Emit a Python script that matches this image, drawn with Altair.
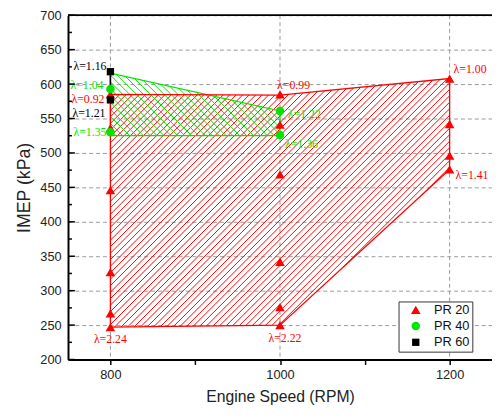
import altair as alt
import pandas as pd

# ---------------- data ----------------
pr20_rpm = [800, 800, 800, 800, 800, 800, 1000, 1000, 1000, 1000, 1000, 1000, 1200, 1200, 1200, 1200]
pr20_imep = [585, 536, 446, 327, 267, 247, 585, 541, 469, 342, 276, 250, 608, 542, 496, 476]
pr40_rpm = [800, 800, 1000, 1000]
pr40_imep = [593, 530, 561, 526]
pr60_rpm = [800, 800]
pr60_imep = [618, 577]

series_names = ["PR 20", "PR 40", "PR 60"]

# boundaries of the operating regions (hatched areas)
region20_rpm = [800, 1000, 1200, 1200, 1000, 800]
region20_imep = [585, 584, 608, 476, 250, 247]
region40_rpm = [800, 1000, 1000, 800]
region40_imep = [616, 561, 525, 525]

# lambda annotations
label_text = ["λ=1.16", "λ=1.04", "λ=0.92", "λ=1.21", "λ=1.35", "λ=2.24",
              "λ=0.99", "λ=1.22", "λ=1.36", "λ=2.22", "λ=1.00", "λ=1.41"]
label_rpm = [800, 800, 800, 800, 800, 800, 1000, 1000, 1000, 1000, 1200, 1200]
label_imep = [618, 593, 585, 577, 530, 247, 585, 561, 526, 250, 608, 476]
label_series = ["PR 60", "PR 40", "PR 20", "PR 60", "PR 40", "PR 20",
                "PR 20", "PR 40", "PR 40", "PR 20", "PR 20", "PR 20"]

x_ticks_all = [800, 900, 1000, 1100, 1200]
x_grid = [800, 1000, 1200]
y_ticks = [200, 250, 300, 350, 400, 450, 500, 550, 600, 650, 700]
y_minor = [225, 275, 325, 375, 425, 475, 525, 575, 625, 675]

# ---------------- styling ----------------
W, H = 431, 350
XMIN, XMAX, YMIN, YMAX = 750, 1250, 200, 700
RED, GREEN, BLACK = "#ff0000", "#00e600", "#000000"
series_colors = {"PR 20": RED, "PR 40": GREEN, "PR 60": BLACK}
# (align, dx, dy) for each annotation
label_style = [("right", -4, -6), ("right", -7, -4), ("right", -6, 5), ("right", -5, 13),
               ("right", -4, 0), ("center", 0, 12), ("left", -3, -10), ("left", 8, 3),
               ("left", 5, 9), ("center", 5, 13), ("left", 4, -10), ("left", 6, 6)]

xscale = alt.Scale(domain=[XMIN, XMAX], nice=False, zero=False)
yscale = alt.Scale(domain=[YMIN, YMAX], nice=False, zero=False)
xaxis = alt.Axis(title="Engine Speed (RPM)", values=x_ticks_all,
                 labelExpr="datum.value % 200 == 0 ? datum.label : ''",
                 grid=False, tickSize=5, tickWidth=1.5, tickColor="black",
                 domainColor="black", domainWidth=2, labelFontSize=13,
                 labelFont="Liberation Sans", labelColor="#222", labelPadding=4,
                 titleFont="Liberation Sans", titleFontSize=16, titleFontWeight="normal",
                 titleColor="#222", titlePadding=8, format="d")
yaxis = alt.Axis(title="IMEP (kPa)", values=y_ticks, grid=True, gridColor="#999",
                 gridDash=[4, 3], gridWidth=1, ticks=False, domainColor="black",
                 domainWidth=2, labelFontSize=13, labelFont="Liberation Sans",
                 labelColor="#222", labelPadding=7, titleFont="Liberation Sans",
                 titleFontSize=18, titleFontWeight="normal", titleColor="#222",
                 titlePadding=6, format="d")


def X(f):
    return alt.X(f, type="quantitative", scale=xscale, axis=xaxis)


def Y(f):
    return alt.Y(f, type="quantitative", scale=yscale, axis=yaxis)


def to_px(x, y):
    return ((x - XMIN) / (XMAX - XMIN) * W, (YMAX - y) / (YMAX - YMIN) * H)


def to_data(px, py):
    return (XMIN + px / W * (XMAX - XMIN), YMAX - py / H * (YMAX - YMIN))


def hatch(xs, ys, step, slash=True, phase=0.0):
    pts = [to_px(x, y) for x, y in zip(xs, ys)]
    n = len(pts)
    f = (lambda p: p[0] + p[1]) if slash else (lambda p: p[1] - p[0])
    vals = [f(p) for p in pts]
    rows = []
    c = min(vals) + phase
    while c < max(vals):
        hits = []
        for i in range(n):
            p1, p2 = pts[i], pts[(i + 1) % n]
            f1, f2 = f(p1) - c, f(p2) - c
            if (f1 > 0) != (f2 > 0):
                t = f1 / (f1 - f2)
                hits.append((p1[0] + t * (p2[0] - p1[0]), p1[1] + t * (p2[1] - p1[1])))
        hits.sort()
        for j in range(0, len(hits) - 1, 2):
            a = to_data(*hits[j])
            b = to_data(*hits[j + 1])
            rows.append({"rpm": a[0], "imep": a[1], "rpm2": b[0], "imep2": b[1]})
        c += step
    return pd.DataFrame(rows)


def outline(xs, ys):
    xs2 = list(xs) + [xs[0]]
    ys2 = list(ys) + [ys[0]]
    return pd.DataFrame({"rpm": xs2, "imep": ys2, "ord": list(range(len(xs2)))})


points = pd.DataFrame({
    "rpm": pr20_rpm + pr40_rpm + pr60_rpm,
    "imep": pr20_imep + pr40_imep + pr60_imep,
    "series": ["PR 20"] * len(pr20_rpm) + ["PR 40"] * len(pr40_rpm) + ["PR 60"] * len(pr60_rpm),
})

labels = pd.DataFrame({"rpm": label_rpm, "imep": label_imep, "text": label_text,
                       "series": label_series})
labels["color"] = labels["series"].map(series_colors)

# ---------------- layers ----------------
xgrid = alt.Chart(pd.DataFrame({"rpm": x_grid})).mark_rule(
    color="#999", strokeDash=[4, 3], strokeWidth=1).encode(x=X("rpm"))

hatch20 = alt.Chart(hatch(region20_rpm, region20_imep, 6.6, True, 3.0)).mark_rule(
    color=RED, strokeWidth=1).encode(x=X("rpm"), y=Y("imep"), x2="rpm2", y2="imep2")
hatch40 = alt.Chart(hatch(region40_rpm, region40_imep, 7.0, False, 3.0)).mark_rule(
    color=GREEN, strokeWidth=1).encode(x=X("rpm"), y=Y("imep"), x2="rpm2", y2="imep2")

out40 = alt.Chart(outline(region40_rpm, region40_imep)).mark_line(
    color=GREEN, strokeWidth=1.3).encode(x=X("rpm"), y=Y("imep"), order="ord:Q")
out20 = alt.Chart(outline(region20_rpm, region20_imep)).mark_line(
    color=RED, strokeWidth=1.3).encode(x=X("rpm"), y=Y("imep"), order="ord:Q")

line60 = alt.Chart(pd.DataFrame({"rpm": pr60_rpm, "imep": pr60_imep, "ord": [0, 1]})).mark_line(
    color=BLACK, strokeWidth=1.6).encode(x=X("rpm"), y=Y("imep"), order="ord:Q")

legend = alt.Legend(title=None, orient="none", legendX=336, legendY=291, padding=2,
                    strokeColor="#333", fillColor="white", labelFont="Liberation Sans",
                    labelFontSize=13, labelColor="#111", rowPadding=2.5, labelOffset=12,
                    symbolOffset=9, symbolStrokeWidth=0)

pts = alt.Chart(points).mark_point(filled=True, opacity=1).encode(
    x=X("rpm"), y=Y("imep"),
    color=alt.Color("series:N", scale=alt.Scale(domain=series_names, range=[RED, GREEN, BLACK]),
                    legend=legend),
    shape=alt.Shape("series:N", scale=alt.Scale(domain=series_names,
                                                 range=["triangle-up", "circle", "square"]),
                    legend=legend),
    size=alt.Size("series:N", scale=alt.Scale(domain=series_names, range=[95, 55, 45]),
                  legend=legend),
)

text_layers = []
for i, (al, dx, dy) in enumerate(label_style):
    text_layers.append(
        alt.Chart(labels.iloc[[i]]).mark_text(
            align=al, baseline="middle", dx=dx, dy=dy, font="Liberation Serif", fontSize=12
        ).encode(x=X("rpm"), y=Y("imep"), text="text:N", color=alt.Color("color:N", scale=None))
    )

ymajor = alt.Chart(pd.DataFrame({"imep": y_ticks})).mark_rule(
    color="black", strokeWidth=1.5).encode(y=Y("imep"), x=alt.value(0), x2=alt.value(7))
yminor = alt.Chart(pd.DataFrame({"imep": y_minor})).mark_rule(
    color="black", strokeWidth=1.5).encode(y=Y("imep"), x=alt.value(0), x2=alt.value(4))

top = alt.Chart(pd.DataFrame({"imep": [YMAX]})).mark_rule(
    color="black", strokeWidth=1.8).encode(y=Y("imep"), x=alt.value(0), x2=alt.value(W))

chart = alt.layer(
    xgrid, hatch20, hatch40, out40, out20, line60, pts, *text_layers, ymajor, yminor, top
).properties(
    width=W, height=H,
    padding={"left": 61, "top": 4, "right": 0, "bottom": 50},
    autosize=alt.AutoSizeParams(type="none"),
    background="white",
).configure_view(stroke=None)

chart.save("out.html", embed_options={"renderer": "svg", "actions": False})
